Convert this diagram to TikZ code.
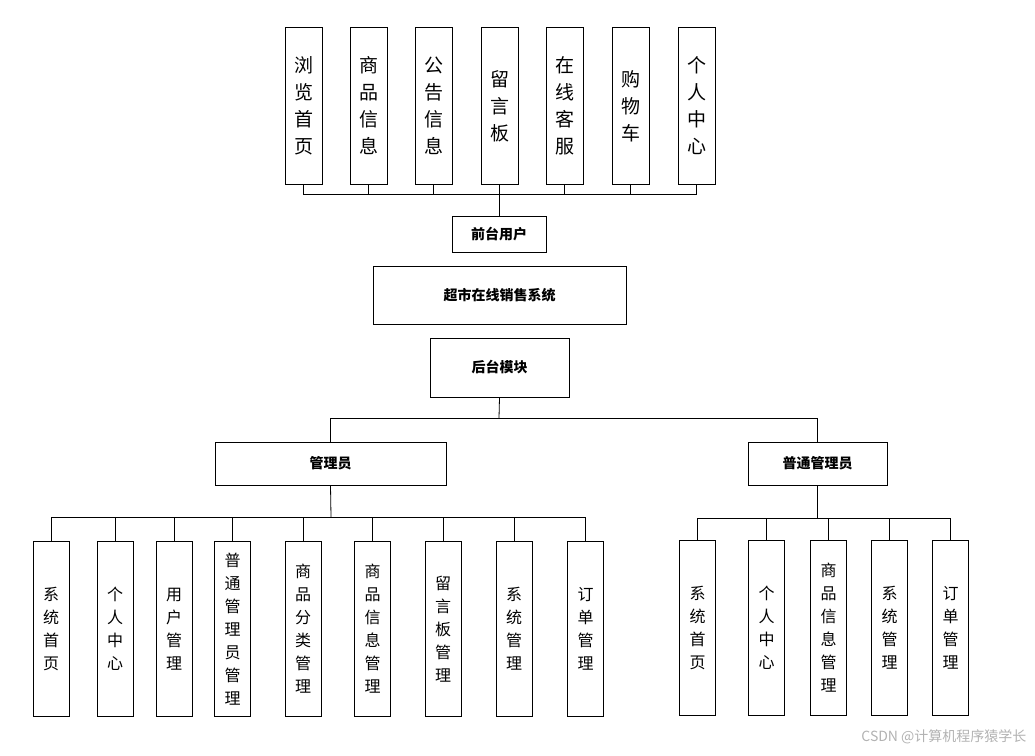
\documentclass[tikz,border=0pt]{standalone}
\usepackage{fontspec}
\newfontfamily\cjk{Noto Sans CJK SC}
\begin{document}
\begin{tikzpicture}[x=1pt,y=-1pt,
 box/.style={draw,thick,inner sep=0pt,align=center},
 topv/.style={box,minimum width=37pt,minimum height=157pt,font={\cjk\fontsize{19}{27}\selectfont}},
 botv/.style={box,minimum width=36pt,minimum height=175pt,font={\cjk\fontsize{16}{23}\selectfont}},
 hb/.style={box,font={\cjk\bfseries\fontsize{14}{16}\selectfont}},
 ln/.style={thick}]
\useasboundingbox (0,0) rectangle (1035,755);
% top
\foreach \x/\t [count=\i] in {303.5/浏\\览\\首\\页,368.5/商\\品\\信\\息,433.5/公\\告\\信\\息,499.5/留\\言\\板,564.5/在\\线\\客\\服,630.5/购\\物\\车,696.5/个\\人\\中\\心}
 \node[topv,anchor=north] (t\i) at (\x,27) {\t};
\node[hb,minimum width=94pt,minimum height=36pt] (qt) at (499,234) {前台用户};
\node[hb,minimum width=253pt,minimum height=58pt] (sys) at (499.5,295) {超市在线销售系统};
\node[hb,minimum width=139pt,minimum height=59pt] (ht) at (499.5,367.5) {后台模块};
\node[hb,minimum width=231pt,minimum height=43pt] (gl) at (330.5,463.5) {管理员};
\node[hb,minimum width=139pt,minimum height=43pt] (pt) at (817.5,463.5) {普通管理员};
\coordinate (tb) at (499,194);
\draw[ln] (t1.south) -- (t1.south|-tb) -- (t7.south|-tb) -- (t7.south);
\foreach \i in {2,...,6} \draw[ln] (t\i.south) -- (t\i.south|-tb);
\draw[ln] (tb) -- (qt.north);
\coordinate (hb) at (499,418);
\draw[ln] (ht.south) -- (hb);
\draw[ln] (gl.north) -- (gl.north|-hb) -- (pt.north|-hb) -- (pt.north);
% left bottom
\foreach \x/\t [count=\i] in {51/系\\统\\首\\页,115/个\\人\\中\\心,174/用\\户\\管\\理,232.5/普\\通\\管\\理\\员\\管\\理,303/商\\品\\分\\类\\管\\理,372.5/商\\品\\信\\息\\管\\理,443/留\\言\\板\\管\\理,514/系\\统\\管\\理,585.5/订\\单\\管\\理}
 \node[botv,anchor=north] (l\i) at (\x,541) {\t};
\coordinate (lb) at (331,517);
\draw[ln] (gl.south) -- (lb);
\draw[ln] (l1.north) -- (l1.north|-lb) -- (l9.north|-lb) -- (l9.north);
\foreach \i in {2,...,8} \draw[ln] (l\i.north) -- (l\i.north|-lb);
% right bottom
\foreach \x/\t [count=\i] in {697.5/系\\统\\首\\页,766.5/个\\人\\中\\心,828.5/商\\品\\信\\息\\管\\理,889.5/系\\统\\管\\理,950.5/订\\单\\管\\理}
 \node[botv,anchor=north] (r\i) at (\x,540) {\t};
\coordinate (rb) at (817.5,518);
\draw[ln] (pt.south) -- (rb);
\draw[ln] (r1.north) -- (r1.north|-rb) -- (r5.north|-rb) -- (r5.north);
\foreach \i in {2,3,4} \draw[ln] (r\i.north) -- (r\i.north|-rb);
\node[font={\cjk\fontsize{14}{16}\selectfont},text=gray!60,anchor=east] (wm) at (1030,737) {CSDN @计算机程序猿学长};
\end{tikzpicture}
\end{document}
